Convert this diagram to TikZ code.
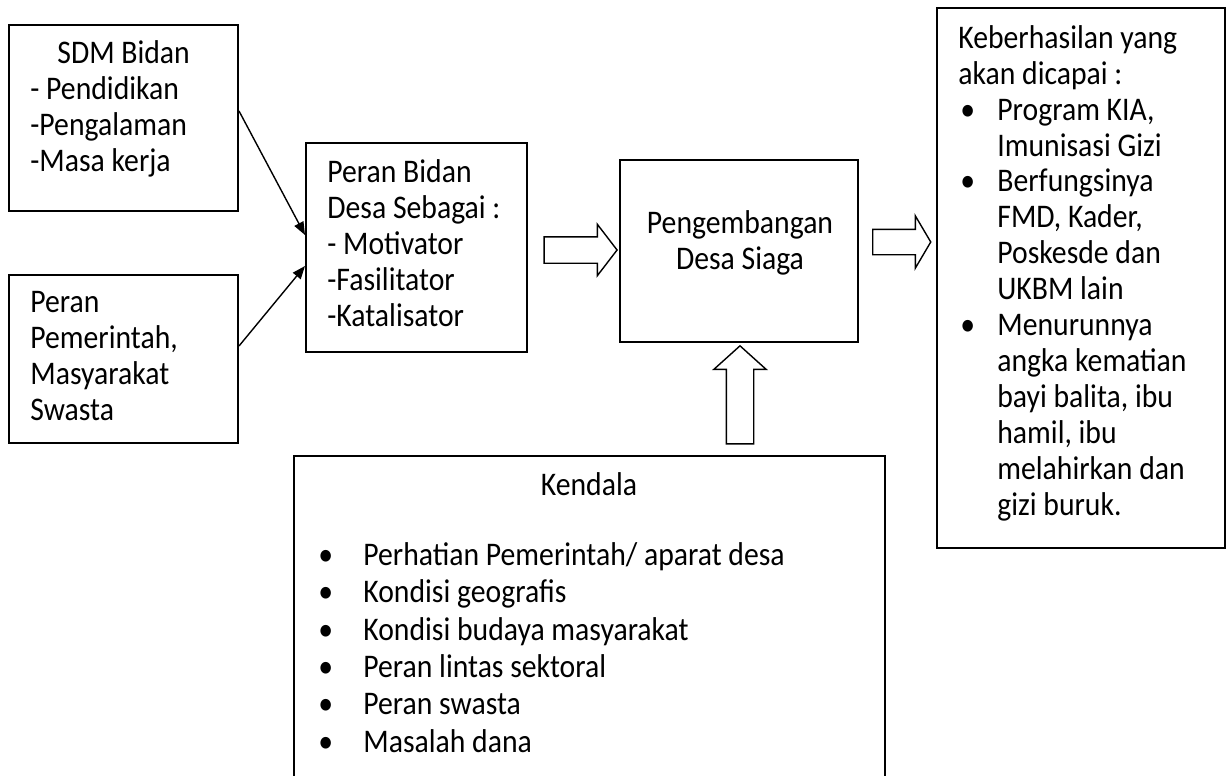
\documentclass[tikz,border=0pt]{standalone}
\usepackage{fontspec}
\setmainfont{Carlito}[FakeStretch=0.9]
\usetikzlibrary{
  positioning,
  shapes.arrows,
  arrows.meta
}
% bullet lines: bullet box, then text
\newcommand{\bulitem}{\makebox[19.5pt][l]{\hspace*{1pt}\textbullet}}
\newcommand{\bulindent}{\hspace*{19.5pt}}
\newcommand{\kenitem}{\makebox[22.5pt][l]{\textbullet}}

\begin{document}
\begin{tikzpicture}[
  x=0.5pt, y=-0.5pt,
  every node/.style={font=\fontsize{16.5}{18}\selectfont},
  box/.style={draw, rectangle, line width=1pt, inner sep=0pt},
  txt/.style={anchor=north west, align=left, inner sep=0pt},
  arrow/.style={-{Triangle[length=6.5pt,width=5pt]}, line width=0.7pt},
  fatarrow/.style={draw, single arrow, line width=0.7pt, inner xsep=0pt}
]
\useasboundingbox (0,0) rectangle (1228,776);

% Boxes
\node[box, minimum width=114.5pt, minimum height=93pt] (sdm) at (123.5,118) {};
\node[box, minimum width=114.5pt, minimum height=84pt] (pemerintah) at (123.5,359) {};
\node[box, minimum width=110.5pt, minimum height=104.5pt] (bidan) at (416.5,247.5) {};
\node[box, minimum width=119pt, minimum height=91pt] (desa) at (739,251) {};
\node[box, minimum width=144pt, minimum height=270pt] (hasil) at (1081,278) {};
\node[box, minimum width=295.5pt, minimum height=172pt] (kendala) at (589.5,628) {};

% Texts
\node[txt] (sdmtxt) at (30,37.8) {\strut\hspace*{13.5pt}SDM Bidan\\- Pendidikan\\-Pengalaman\\-Masa kerja};
\node[txt] (pemtxt) at (30,286.8) {\strut Peran\\Pemerintah,\\Masyarakat\\Swasta};
\node[txt] (bidantxt) at (327,156.8) {\strut Peran Bidan\\Desa Sebagai :\\- Motivator\\-Fasilitator\\-Katalisator};
\node[anchor=north, align=center, inner sep=0pt] (desatxt) at (740,207.8) {\strut Pengembangan\\Desa Siaga};
\node[txt, font=\fontsize{16.5}{17.95}\selectfont] (hasiltxt) at (958,22.8) {\strut Keberhasilan yang\\
  akan dicapai :\\
  \bulitem Program KIA,\\
  \bulindent Imunisasi Gizi\\
  \bulitem Berfungsinya\\
  \bulindent FMD, Kader,\\
  \bulindent Poskesde dan\\
  \bulindent UKBM lain\\
  \bulitem Menurunnya\\
  \bulindent angka kematian\\
  \bulindent bayi balita, ibu\\
  \bulindent hamil, ibu\\
  \bulindent melahirkan dan\\
  \bulindent gizi buruk.};
\node[anchor=base, inner sep=0pt] (kentitle) at (589,495) {Kendala};
\node[txt, font=\fontsize{16.5}{18.7}\selectfont] (kentxt) at (318,538.8) {\strut\kenitem Perhatian Pemerintah/ aparat desa\\
  \kenitem Kondisi geografis\\
  \kenitem Kondisi budaya masyarakat\\
  \kenitem Peran lintas sektoral\\
  \kenitem Peran swasta\\
  \kenitem Masalah dana};

% Block arrows
\node[fatarrow, inner ysep=6.25pt, minimum height=36.5pt, single arrow head extend=6.25pt, single arrow tip angle=105] (arr1) at (575.5,250) {};
\node[fatarrow, inner ysep=6pt, minimum height=29pt, single arrow head extend=6.75pt, single arrow tip angle=119] (arr2) at (898,242) {};
\node[fatarrow, inner ysep=6.5pt, minimum height=49pt, single arrow head extend=6.25pt, single arrow tip angle=96, rotate=90] (arr3) at (740,401) {};

% Arrows into Peran Bidan
\draw[arrow] ([yshift=3.5pt]sdm.east) -- ([yshift=6.25pt]bidan.west);
\draw[arrow] ([yshift=6.5pt]pemerintah.east) -- ([yshift=-9.25pt]bidan.west);

\end{tikzpicture}
\end{document}
